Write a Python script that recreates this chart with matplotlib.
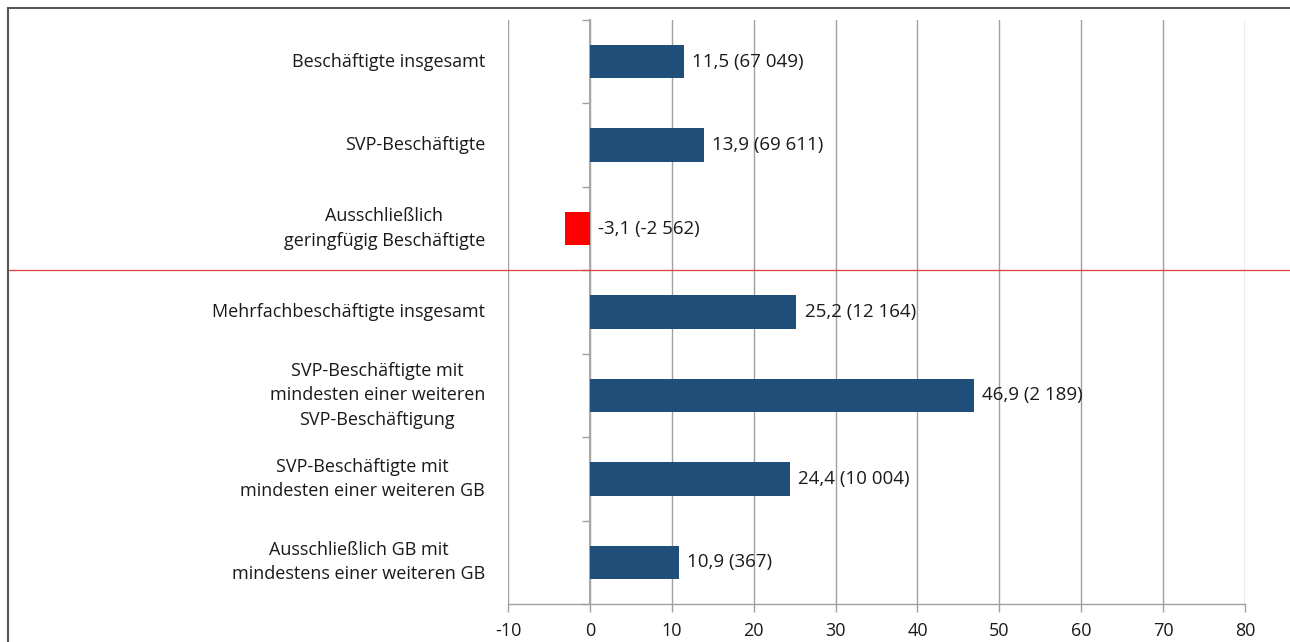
import matplotlib
matplotlib.use("Agg")
import matplotlib.pyplot as plt
from matplotlib.lines import Line2D
import matplotlib.transforms as mtransforms

plt.rcParams['font.family'] = ['Open Sans', 'DejaVu Sans']

categories = [
    "Beschäftigte insgesamt",
    "SVP-Beschäftigte",
    "Ausschließlich\ngeringfügig Beschäftigte",
    "Mehrfachbeschäftigte insgesamt",
    "SVP-Beschäftigte mit\nmindesten einer weiteren\nSVP-Beschäftigung",
    "SVP-Beschäftigte mit\nmindesten einer weiteren GB",
    "Ausschließlich GB mit\nmindestens einer weiteren GB",
]
values = [11.5, 13.9, -3.1, 25.2, 46.9, 24.4, 10.9]
value_labels = ["11,5 (67 049)", "13,9 (69 611)", "-3,1 (-2 562)", "25,2 (12 164)",
                "46,9 (2 189)", "24,4 (10 004)", "10,9 (367)"]
xticks = [-10, 0, 10, 20, 30, 40, 50, 60, 70, 80]

W, H = 1290, 642
fig = plt.figure(figsize=(W / 100, H / 100), dpi=100)
ax = fig.add_axes([508 / W, 1 - 604 / H, (1245 - 508) / W, (604 - 20) / H])

n = len(categories)
ypos = list(range(n))
colors = ['#ff0000' if v < 0 else '#1f4e79' for v in values]
ax.barh(ypos, values, height=0.4, color=colors, zorder=3)

for y, v, lab in zip(ypos, values, value_labels):
    ax.annotate(lab, xy=(max(v, 0), y), xytext=(6, 0), textcoords='offset points',
                va='center', ha='left', fontsize=13.5, color='#1a1a1a', zorder=4)

ax.set_xlim(-10, 80)
ax.set_ylim(n - 0.5, -0.5)
ax.set_xticks(xticks)
ax.set_xticklabels([str(t) for t in xticks], fontsize=13, color='#1a1a1a')
ax.tick_params(axis='x', length=6, width=1, color='#a0a0a0', direction='out', pad=7)

# y axis crossing at 0 with boundary ticks
ax.spines['left'].set_position(('data', 0))
ax.spines['left'].set_color('#a8a8a8')
ax.spines['left'].set_linewidth(1.5)
ax.set_yticks([i - 0.5 for i in range(n + 1)])
ax.set_yticklabels([])
ax.tick_params(axis='y', length=6, width=1, color='#a0a0a0', direction='out')

# category labels
trans = mtransforms.blended_transform_factory(ax.transAxes, ax.transData)
for y, lab in zip(ypos, categories):
    ax.text(-23 / (1245 - 508), y, lab, transform=trans, ha='right', va='center',
            multialignment='center', fontsize=13, linespacing=1.45, color='#1a1a1a')

ax.grid(axis='x', color='#a0a0a0', lw=1, zorder=0)
ax.grid(axis='y', visible=False)
for s in ['top', 'right']:
    ax.spines[s].set_visible(False)
ax.spines['bottom'].set_color('#a0a0a0')
ax.spines['bottom'].set_linewidth(1)

# separator line between groups
sep_y = 2.5
ax.axhline(sep_y, xmin=-(508 - 8) / (1245 - 508), xmax=1 + (1300 - 1245) / (1245 - 508),
           color='#e03c3c', lw=0.9, clip_on=False, zorder=5)

# outer frame: only left and top edges visible
fx, fy = 7.5 / W, 1 - 7.5 / H
fig.add_artist(Line2D([fx, fx], [-0.01, fy], transform=fig.transFigure, color='#555555', lw=1.5))
fig.add_artist(Line2D([fx, 1.01], [fy, fy], transform=fig.transFigure, color='#555555', lw=1.5))

fig.savefig("out.png", dpi=100)
